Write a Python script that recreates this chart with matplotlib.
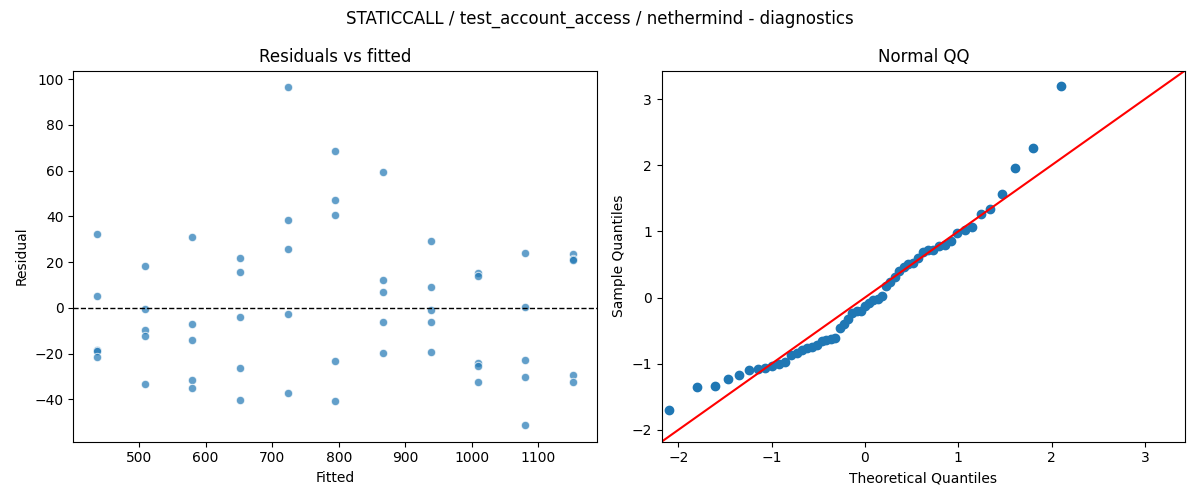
import numpy as np
import matplotlib
matplotlib.use("Agg")
import matplotlib.pyplot as plt
from statistics import NormalDist

# fitted value levels (x positions of residual groups)
fitted_levels = [437, 509, 580, 652, 723, 795, 866, 938, 1009, 1080, 1152]

# residuals per fitted level
residual_groups = [
    [32.3, 5.4, -18.5, -19.0, -21.4],
    [18.3, -0.6, -9.6, -12.2, -33.2],
    [31.1, -6.9, -14.0, -31.3, -35.2],
    [21.9, 15.7, -3.9, -26.2, -40.1],
    [96.4, 38.4, 25.7, -2.6, -37.1],
    [68.5, 47.3, 40.7, -23.0, -40.6],
    [59.4, 12.2, 7.0, -6.1, -19.6],
    [29.4, 9.3, -0.9, -6.0, -19.1],
    [15.4, 14.0, -23.9, -25.3, -32.3],
    [24.0, 0.6, -22.7, -30.1, -51.1],
    [23.8, 21.6, 21.0, -29.2, -32.2],
]

title = "STATICCALL / test_account_access / nethermind - diagnostics"

fitted = np.concatenate([[f] * len(g) for f, g in zip(fitted_levels, residual_groups)])
resid = np.concatenate([np.array(g, dtype=float) for g in residual_groups])

# QQ quantities (standardised residuals vs normal quantiles, positions i/(n+1))
n = len(resid)
sample_q = np.sort((resid - resid.mean()) / resid.std())
nd = NormalDist()
theo_q = np.array([nd.inv_cdf(i / (n + 1)) for i in range(1, n + 1)])

fig, (ax1, ax2) = plt.subplots(1, 2, figsize=(12, 5), dpi=100)

ax1.scatter(fitted, resid, s=36, color="C0", alpha=0.7, edgecolors="white", linewidths=0.75)
ax1.axhline(0, color="black", linestyle="--", linewidth=1)
ax1.set_title("Residuals vs fitted")
ax1.set_xlabel("Fitted")
ax1.set_ylabel("Residual")

ax2.plot(theo_q, sample_q, "o", color="C0")
lims = (-2.18, 3.43)
ax2.plot(lims, lims, color="red")
ax2.set_xlim(lims)
ax2.set_ylim(lims)
ax2.set_title("Normal QQ")
ax2.set_xlabel("Theoretical Quantiles")
ax2.set_ylabel("Sample Quantiles")

fig.suptitle(title)
fig.tight_layout()
fig.savefig("out.png", dpi=100)
